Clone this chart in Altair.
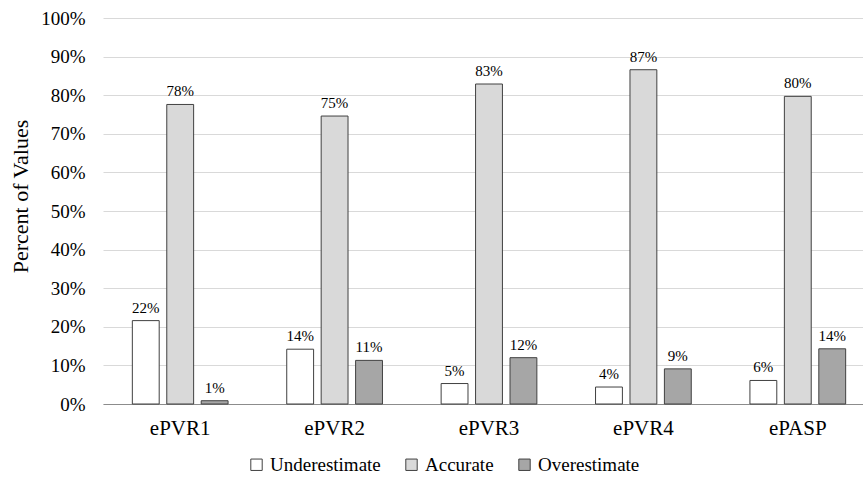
import altair as alt
import pandas as pd

# Share of estimated values by measurement and estimate category (percent)
metrics = ["ePVR1", "ePVR2", "ePVR3", "ePVR4", "ePASP"]
series = ["Underestimate", "Accurate", "Overestimate"]
underestimate = [21.6, 14.2, 5.3, 4.4, 6.1]
accurate = [77.6, 74.6, 82.9, 86.6, 79.7]
overestimate = [0.85, 11.3, 12.0, 9.1, 14.3]
y_ticks = [0, 10, 20, 30, 40, 50, 60, 70, 80, 90, 100]

fills = ["#ffffff", "#d9d9d9", "#a6a6a6"]
outline = "#404040"
serif = "Liberation Serif"

rows = []
for name, values in zip(series, [underestimate, accurate, overestimate]):
    for m, v in zip(metrics, values):
        rows.append({"metric": m, "series": name, "value": v})
df = pd.DataFrame(rows)

x_enc = alt.X(
    "metric:N",
    sort=metrics,
    scale=alt.Scale(range=[0, 772], paddingInner=0.38, paddingOuter=0.19),
    axis=alt.Axis(
        title=None,
        labelAngle=0,
        labelFont=serif,
        labelFontSize=21,
        labelColor="black",
        labelPadding=13,
        ticks=False,
        domain=True,
        domainColor="#8c8c8c",
        domainWidth=1,
        grid=False,
    ),
)
xoff_enc = alt.XOffset(
    "series:N", sort=series, scale=alt.Scale(paddingInner=0.22, paddingOuter=0)
)
y_enc = alt.Y(
    "value:Q",
    scale=alt.Scale(domain=[0, 100], nice=False),
    axis=alt.Axis(
        title="Percent of Values",
        titleFont=serif,
        titleFontSize=22,
        titleFontWeight="normal",
        titleColor="black",
        titleAngle=270,
        titleAlign="center",
        titleBaseline="middle",
        titleX=-83,
        titleY=178,
        values=y_ticks,
        tickCount=11,
        labelExpr="datum.value + '%'",
        labelFont=serif,
        labelFontSize=19,
        labelColor="black",
        labelPadding=18,
        ticks=False,
        domain=False,
        grid=True,
        gridColor="#d9d9d9",
        gridWidth=1,
    ),
)

base = alt.Chart(df)

bars = base.mark_bar(stroke=outline, strokeWidth=1).encode(
    x=x_enc,
    xOffset=xoff_enc,
    y=y_enc,
    color=alt.Color(
        "series:N",
        sort=series,
        scale=alt.Scale(domain=series, range=fills),
        legend=alt.Legend(
            title=None,
            orient="none",
            legendX=144,
            legendY=437,
            direction="horizontal",
            symbolType="square",
            symbolSize=130,
            symbolStrokeColor=outline,
            symbolStrokeWidth=1,
            labelFont=serif,
            labelFontSize=19,
            labelColor="black",
            labelOffset=4,
            columnPadding=21,
            padding=0,
        ),
    ),
)

labels = base.transform_calculate(
    label="format(datum.value, '.0f') + '%'"
).mark_text(
    font=serif, fontSize=15, color="black", baseline="alphabetic", dy=-8
).encode(
    x=x_enc,
    xOffset=xoff_enc,
    y=y_enc,
    text="label:N",
)

chart = (
    alt.layer(bars, labels)
    .properties(
        width=760,
        height=386,
        autosize=alt.AutoSizeParams(type="none"),
        padding={"left": 103, "top": 18, "right": 0, "bottom": 73},
        background="white",
    )
    .configure(font=serif)
    .configure_view(stroke=None)
    .configure_axis(labelFont=serif, titleFont=serif)
    .configure_legend(labelFont=serif)
    .configure_text(font=serif)
)

chart.save("out.html", embed_options={"renderer": "svg", "actions": False})
